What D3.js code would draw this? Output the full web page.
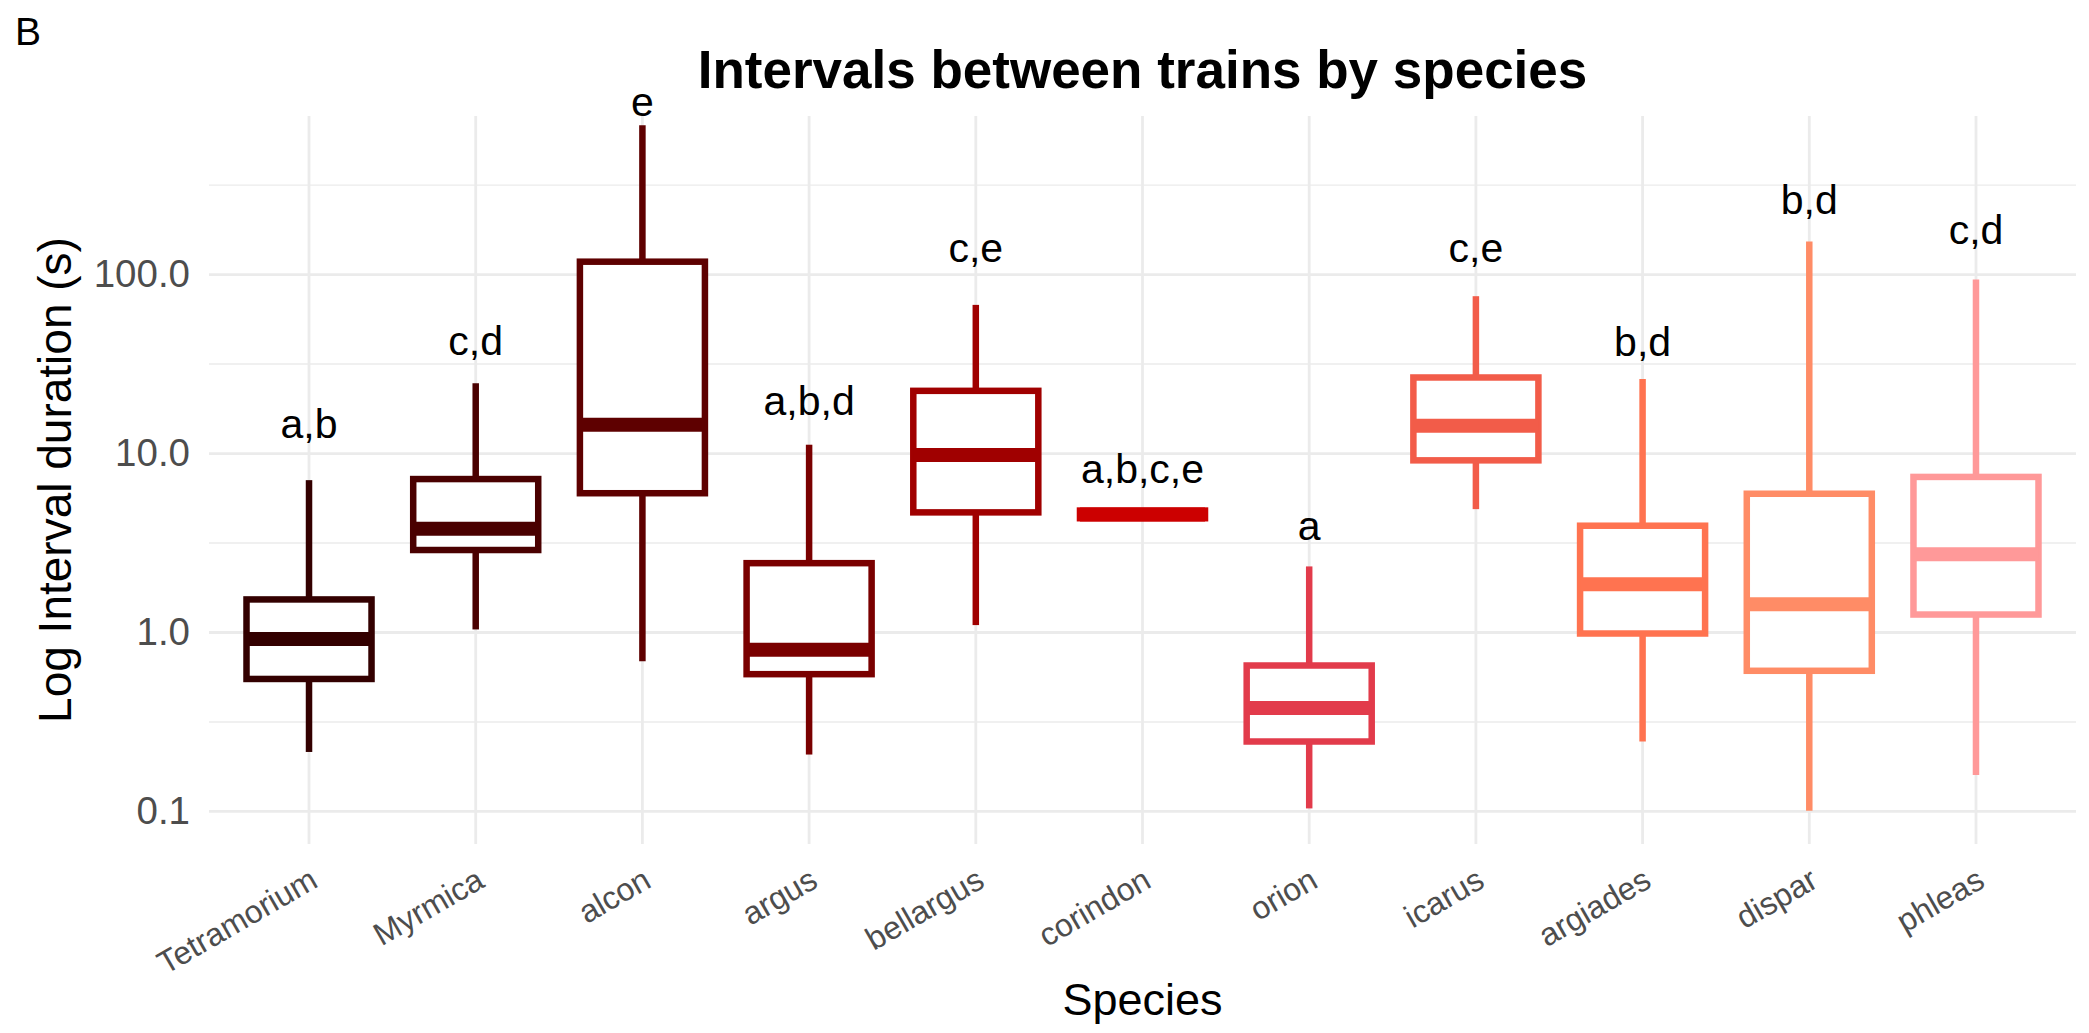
<!DOCTYPE html>
<html>
<head>
<meta charset="utf-8">
<script src="https://cdn.jsdelivr.net/npm/d3@7"></script>
<style>
  body { margin: 0; background: #fff; }
  text { font-family: "Liberation Sans", Arial, Helvetica, sans-serif; }
</style>
</head>
<body>
<div id="chart-area"></div>
<script>
/* Data */
const species = ['Tetramorium', 'Myrmica', 'alcon', 'argus', 'bellargus', 'corindon',
  'orion', 'icarus', 'argiades', 'dispar', 'phleas']
const colors = ['#330000', '#4a0000', '#5e0000', '#7a0000', '#a00000', '#cc0000',
  '#e23b4b', '#f25c49', '#ff7350', '#ff8c66', '#ff9999']
const whiskerLow = [0.215, 1.04, 0.69, 0.208, 1.10, 4.35, 0.104, 4.89, 0.246, 0.101, 0.16]
const q1 = [0.55, 2.89, 6.0, 0.585, 4.69, 4.35, 0.246, 9.16, 0.987, 0.611, 1.26]
const median = [0.92, 3.8, 14.5, 0.80, 9.8, 4.57, 0.378, 14.3, 1.86, 1.44, 2.74]
const q3 = [1.53, 7.2, 118, 2.44, 22.4, 4.8, 0.654, 26.6, 3.95, 5.96, 7.4]
const whiskerHigh = [7.1, 24.7, 683, 11.2, 67.7, 4.8, 2.34, 75.7, 26.1, 153, 93.9]
const letters = ['a,b', 'c,d', 'e', 'a,b,d', 'c,e', 'a,b,c,e', 'a', 'c,e', 'b,d', 'b,d', 'c,d']
const letterAt = [14.6, 42.8, 920, 19.8, 142, 8.2, 3.93, 142, 42.0, 263, 178]

const yTicks = [0.1, 1, 10, 100]
const yMinor = [0.3162, 3.162, 31.62, 316.2]
const yDomain = [0.0658, 769]

/* Canvas */
const CANVAS_WIDTH = 2089
const CANVAS_HEIGHT = 1033
const panel = { left: 209, right: 2076, top: 116, bottom: 844 }

const $svg = d3.select('#chart-area')
  .append('svg')
  .attr('width', CANVAS_WIDTH)
  .attr('height', CANVAS_HEIGHT)

$svg.append('rect')
  .attr('width', CANVAS_WIDTH)
  .attr('height', CANVAS_HEIGHT)
  .attr('fill', '#fff')

/* Scales */
const x = d3.scalePoint()
  .domain(species)
  .range([panel.left, panel.right])
  .padding(0.6)

const y = d3.scaleLog()
  .domain(yDomain)
  .range([panel.bottom, panel.top])

const boxWidth = x.step() * 0.75

/* Grid */
const $grid = $svg.append('g')

$grid.selectAll('.minor')
  .data(yMinor)
  .enter().append('line')
  .attr('x1', panel.left).attr('x2', panel.right)
  .attr('y1', d => y(d)).attr('y2', d => y(d))
  .attr('stroke', '#ebebeb')
  .attr('stroke-width', 1.4)

$grid.selectAll('.major-y')
  .data(yTicks)
  .enter().append('line')
  .attr('x1', panel.left).attr('x2', panel.right)
  .attr('y1', d => y(d)).attr('y2', d => y(d))
  .attr('stroke', '#ebebeb')
  .attr('stroke-width', 2.8)

$grid.selectAll('.major-x')
  .data(species)
  .enter().append('line')
  .attr('x1', d => x(d)).attr('x2', d => x(d))
  .attr('y1', panel.top).attr('y2', panel.bottom)
  .attr('stroke', '#ebebeb')
  .attr('stroke-width', 2.8)

/* Axes */
const yAxis = d3.axisLeft(y)
  .tickValues(yTicks)
  .tickFormat(d3.format('.1f'))
  .tickSize(0)
  .tickPadding(19)

$svg.append('g')
  .attr('transform', `translate(${panel.left}, 0)`)
  .call(yAxis)
  .call(g => g.select('.domain').remove())
  .selectAll('text')
  .attr('font-size', 38.5)
  .attr('fill', '#4d4d4d')
  .attr('font-family', '"Liberation Sans", Arial, sans-serif')

const xAxis = d3.axisBottom(x).tickSize(0).tickPadding(0)

$svg.append('g')
  .attr('transform', `translate(0, ${panel.bottom})`)
  .call(xAxis)
  .call(g => g.select('.domain').remove())
  .selectAll('text')
  .attr('font-size', 32)
  .attr('fill', '#4d4d4d')
  .attr('font-family', '"Liberation Sans", Arial, sans-serif')
  .attr('text-anchor', 'end')
  .attr('dy', 0)
  .attr('y', 0)
  .attr('transform', 'translate(10, 42) rotate(-30)')

/* Boxes */
const data = species.map((s, i) => ({
  species: s, color: colors[i],
  lo: whiskerLow[i], q1: q1[i], med: median[i], q3: q3[i], hi: whiskerHigh[i],
  letter: letters[i], letterAt: letterAt[i]
}))

const $boxes = $svg.selectAll('.box')
  .data(data)
  .enter().append('g')
  .attr('class', 'box')

// whiskers
$boxes.append('line')
  .attr('x1', d => x(d.species)).attr('x2', d => x(d.species))
  .attr('y1', d => y(d.hi)).attr('y2', d => y(d.q3))
  .attr('stroke', d => d.color)
  .attr('stroke-width', 6.5)

$boxes.append('line')
  .attr('x1', d => x(d.species)).attr('x2', d => x(d.species))
  .attr('y1', d => y(d.q1)).attr('y2', d => y(d.lo))
  .attr('stroke', d => d.color)
  .attr('stroke-width', 6.5)

// box + median
$boxes.append('rect')
  .attr('x', d => x(d.species) - boxWidth / 2)
  .attr('width', boxWidth)
  .attr('y', d => y(d.q3))
  .attr('height', d => y(d.q1) - y(d.q3))
  .attr('fill', '#fff')
  .attr('stroke', d => d.color)
  .attr('stroke-width', 6.5)

$boxes.append('line')
  .attr('x1', d => x(d.species) - boxWidth / 2)
  .attr('x2', d => x(d.species) + boxWidth / 2)
  .attr('y1', d => y(d.med)).attr('y2', d => y(d.med))
  .attr('stroke', d => d.color)
  .attr('stroke-width', 14)

// significance letters
$boxes.append('text')
  .attr('x', d => x(d.species))
  .attr('y', d => y(d.letterAt))
  .attr('dy', '0.35em')
  .attr('text-anchor', 'middle')
  .attr('font-size', 41)
  .attr('fill', '#000')
  .text(d => d.letter)

/* Labels */
$svg.append('text')
  .attr('x', (panel.left + panel.right) / 2)
  .attr('y', 88)
  .attr('text-anchor', 'middle')
  .attr('font-size', 53)
  .attr('font-weight', 'bold')
  .text('Intervals between trains by species')

$svg.append('text')
  .attr('x', 15)
  .attr('y', 45)
  .attr('font-size', 39)
  .text('B')

$svg.append('text')
  .attr('x', (panel.left + panel.right) / 2)
  .attr('y', 1015)
  .attr('text-anchor', 'middle')
  .attr('font-size', 45)
  .text('Species')

$svg.append('text')
  .attr('transform', `translate(71, ${(panel.top + panel.bottom) / 2}) rotate(-90)`)
  .attr('text-anchor', 'middle')
  .attr('font-size', 46)
  .text('Log Interval duration (s)')
</script>
</body>
</html>
